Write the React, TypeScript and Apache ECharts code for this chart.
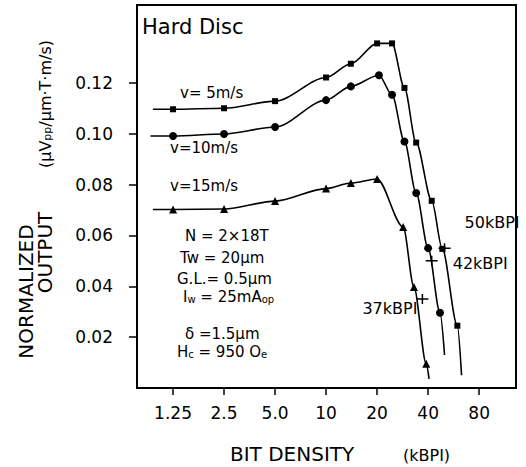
import { useEffect, useRef } from "react";
import * as echarts from "echarts";

// Bit density axis (kBPI), drawn on a base-2 logarithmic scale
const densityTicks = [1.25, 2.5, 5, 10, 20, 40, 80];
const densityTickLabels = ["1.25", "2.5", "5.0", "10", "20", "40", "80"];
const outputTicks = [0.02, 0.04, 0.06, 0.08, 0.1, 0.12];
const outputTickLabels = ["0.02", "0.04", "0.06", "0.08", "0.10", "0.12"];

// v = 5 m/s (squares); first and last points are the curve's unmarked ends
const density5 = [0.95, 1.25, 2.5, 5, 10, 14, 20, 24.5, 29, 34, 42, 48.5, 59.5, 63];
const output5 = [0.1096, 0.1096, 0.11, 0.1128, 0.1221, 0.1275, 0.1355, 0.1355, 0.118, 0.0965, 0.0736, 0.0547, 0.0245, 0.005];

// v = 10 m/s (circles)
const density10 = [0.92, 1.25, 2.5, 5, 10, 14, 20.5, 24.5, 29, 34, 40, 47, 50];
const output10 = [0.0991, 0.0991, 0.0999, 0.1026, 0.1132, 0.1186, 0.123, 0.1153, 0.0969, 0.0767, 0.055, 0.0296, 0.013];

// v = 15 m/s (triangles)
const density15 = [0.95, 1.25, 2.5, 5, 10, 14, 20, 28.5, 33, 39, 40.5];
const output15 = [0.0702, 0.0702, 0.0704, 0.0735, 0.0784, 0.0806, 0.0822, 0.0633, 0.0397, 0.0095, 0.0036];

// Half-output densities (D50) marked with a cross on each curve
const d50Density = [37, 42, 50];
const d50Output = [0.035, 0.05, 0.055];
const d50Labels = ["37kBPI", "42kBPI", "50kBPI"];

const FONT = "DejaVu Sans";
const log2 = (v: number) => Math.log(v) / Math.LN2;

function curve(xs: number[], ys: number[]) {
  return xs.map((x, i) => {
    const item: any = { value: [log2(x), ys[i]] };
    if (i === 0 || i === xs.length - 1) item.symbol = "none";
    return item;
  });
}

const d50LabelPlacement: { position: string; offset: [number, number] }[] = [
  { position: "left", offset: [6, 10] },
  { position: "right", offset: [10, 3] },
  { position: "right", offset: [9, -26] },
];

const subRich = {
  n: { fontSize: 15, fontFamily: FONT, fill: "#000" },
  s: { fontSize: 10, fontFamily: FONT, fill: "#000", verticalAlign: "bottom", padding: [5, 0, 0, 0] },
};

function txt(text: string, x: number, y: number, size: number, extra: any = {}) {
  return {
    type: "text",
    x,
    y,
    silent: true,
    style: {
      text,
      fontSize: size,
      fontFamily: FONT,
      fill: "#000",
      textAlign: "left",
      textVerticalAlign: "middle",
      ...extra,
    },
  };
}

export default function App() {
  const ref = useRef<HTMLDivElement>(null);

  useEffect(() => {
    document.body.style.margin = "0";
    const chart = echarts.init(ref.current!, null, { renderer: "svg" });

    const lineBase = {
      type: "line",
      smooth: 0.3,
      smoothMonotone: "x",
      lineStyle: { color: "#000", width: 1.6 },
      itemStyle: { color: "#000" },
      z: 3,
    };

    chart.setOption({
      animation: false,
      backgroundColor: "#fff",
      grid: {
        left: 137,
        top: 5,
        right: 10,
        bottom: 79,
        show: true,
        borderColor: "#000",
        borderWidth: 2,
      },
      xAxis: {
        type: "value",
        min: log2(0.766),
        max: log2(132),
        axisLine: { show: true, onZero: false, lineStyle: { color: "#000", width: 2 } },
        axisTick: {
          show: true,
          customValues: densityTicks.map(log2),
          length: 7,
          lineStyle: { color: "#000", width: 1.5 },
        },
        axisLabel: {
          customValues: densityTicks.map(log2),
          formatter: (v: number) => {
            let best = 0;
            densityTicks.forEach((t, i) => {
              if (Math.abs(log2(t) - v) < Math.abs(log2(densityTicks[best]) - v)) best = i;
            });
            return densityTickLabels[best];
          },
          margin: 16,
          fontSize: 17,
          fontFamily: FONT,
          color: "#000",
        },
        splitLine: { show: false },
      },
      yAxis: {
        type: "value",
        min: 0,
        max: 0.1506,
        axisLine: { show: true, onZero: false, lineStyle: { color: "#000", width: 2 } },
        axisTick: {
          show: true,
          customValues: outputTicks,
          length: 8,
          lineStyle: { color: "#000", width: 1.5 },
        },
        axisLabel: {
          customValues: outputTicks,
          formatter: (v: number) => {
            let best = 0;
            outputTicks.forEach((t, i) => {
              if (Math.abs(t - v) < Math.abs(outputTicks[best] - v)) best = i;
            });
            return outputTickLabels[best];
          },
          margin: 24,
          fontSize: 17,
          fontFamily: FONT,
          color: "#000",
        },
        splitLine: { show: false },
      },
      series: [
        { ...lineBase, name: "v=5m/s", data: curve(density5, output5), symbol: "rect", symbolSize: 6 },
        { ...lineBase, name: "v=10m/s", data: curve(density10, output10), symbol: "circle", symbolSize: 8 },
        { ...lineBase, name: "v=15m/s", data: curve(density15, output15), symbol: "triangle", symbolSize: 8 },
        {
          type: "scatter",
          name: "D50",
          symbol: "path://M0,4.25h12v1.5h-12zM5.25,0h1.5v10h-1.5z",
          symbolSize: [12, 10],
          itemStyle: { color: "#000", opacity: 1 },
          z: 4,
          data: d50Density.map((d, i) => ({
            value: [log2(d), d50Output[i]],
            label: {
              show: true,
              formatter: d50Labels[i],
              position: d50LabelPlacement[i].position,
              offset: d50LabelPlacement[i].offset,
              distance: 5,
              fontSize: 16,
              fontFamily: FONT,
              color: "#000",
              opacity: 1,
            },
          })),
        },
      ],
      graphic: [
        txt("Hard Disc", 142, 27, 21),
        txt("v= 5m/s", 180, 93, 15),
        txt("v=10m/s", 170, 148, 15),
        txt("v=15m/s", 170, 186, 15),
        txt("N = 2×18T", 185, 236, 15),
        txt("Tw = 20μm", 180, 258, 15),
        txt("G.L.= 0.5μm", 177, 279, 15),
        txt("{n|I}{s|w}{n| = 25mA}{s|op}", 183, 297, 15, { rich: subRich }),
        txt("δ =1.5μm", 185, 333.5, 15),
        txt("{n|H}{s|c}{n| = 950 O}{s|e}", 177, 351.5, 15, { rich: subRich }),
        txt("BIT DENSITY", 230, 454, 20),
        txt("(kBPI)", 403, 455, 16),
        {
          type: "text",
          x: 26,
          y: 291.5,
          rotation: Math.PI / 2,
          silent: true,
          style: { text: "NORMALIZED", fontSize: 20, fontFamily: FONT, fill: "#000", textAlign: "center", textVerticalAlign: "middle" },
        },
        {
          type: "text",
          x: 45,
          y: 252.5,
          rotation: Math.PI / 2,
          silent: true,
          style: { text: "OUTPUT", fontSize: 20, fontFamily: FONT, fill: "#000", textAlign: "center", textVerticalAlign: "middle" },
        },
        {
          type: "text",
          x: 45,
          y: 104,
          rotation: Math.PI / 2,
          silent: true,
          style: {
            text: "{n|(μV}{s|pp}{n|/μm·T·m/s)}",
            textAlign: "center",
            textVerticalAlign: "middle",
            rich: {
              n: { fontSize: 16, fontFamily: FONT, fill: "#000" },
              s: { fontSize: 11, fontFamily: FONT, fill: "#000", verticalAlign: "bottom", padding: [5, 0, 0, 0] },
            },
          },
        },
      ],
    });

    return () => chart.dispose();
  }, []);

  return <div ref={ref} style={{ width: 526, height: 467 }} />;
}
